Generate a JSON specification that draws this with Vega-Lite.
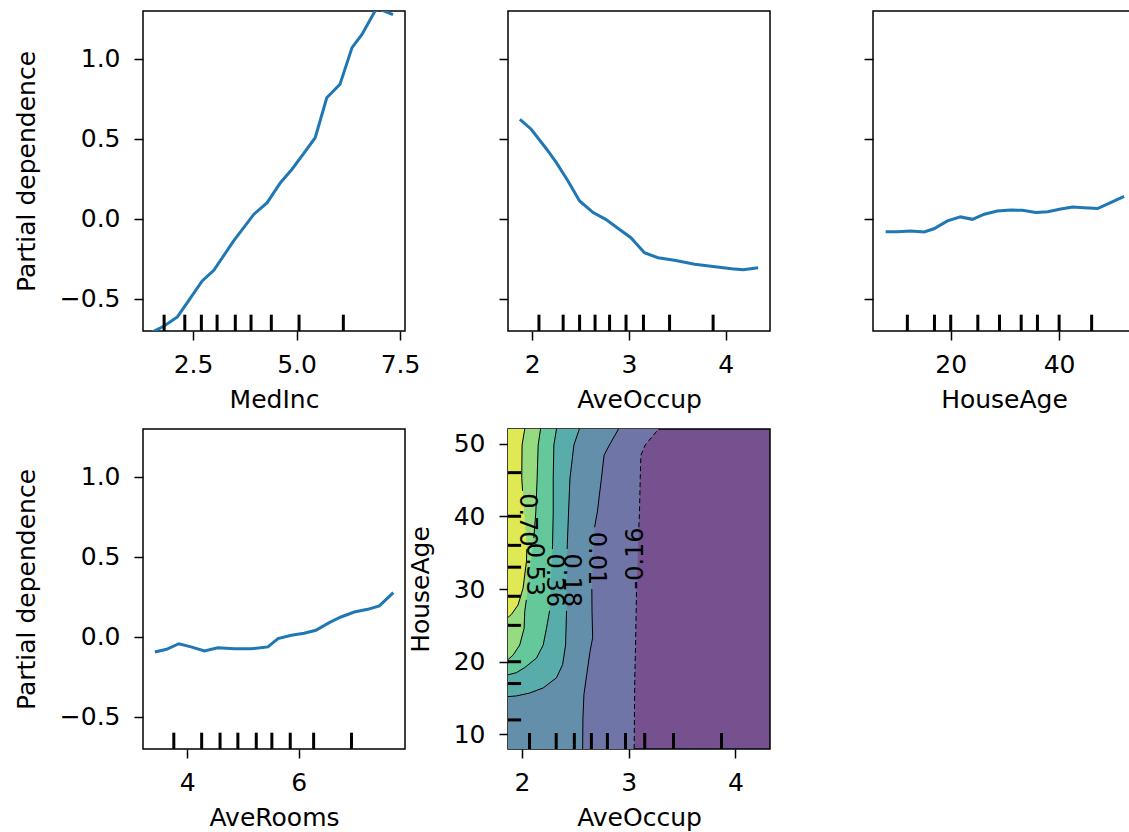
{
  "$schema": "https://vega.github.io/schema/vega-lite/v6.json",
  "padding": {"left": 13, "top": 10, "right": 0, "bottom": 0},
  "background": "white",
  "config": {
    "font": "DejaVu Sans",
    "view": {"stroke": "black", "strokeWidth": 1.5},
    "axis": {
      "domain": false, "grid": false, "ticks": true, "tickColor": "black", "tickWidth": 1.5, "tickSize": 9,
      "labelFont": "DejaVu Sans", "labelFontSize": 25, "labelColor": "black", "labelPadding": 14,
      "titleFont": "DejaVu Sans", "titleFontSize": 25, "titleFontWeight": "normal", "titleColor": "black",
      "labelFlush": false, "labelOverlap": false
    },
    "axisX": {"titlePadding": 10, "labelPadding": 12},
    "axisY": {"titlePadding": 20}
  },
  "datasets": {
    "medinc": [
      {"MedInc": 1.5, "pd": -0.71}, {"MedInc": 1.8, "pd": -0.671}, {"MedInc": 2.12, "pd": -0.614}, {"MedInc": 2.36, "pd": -0.525},
      {"MedInc": 2.72, "pd": -0.389}, {"MedInc": 3.0, "pd": -0.323}, {"MedInc": 3.48, "pd": -0.139}, {"MedInc": 3.97, "pd": 0.028},
      {"MedInc": 4.29, "pd": 0.1}, {"MedInc": 4.61, "pd": 0.225}, {"MedInc": 4.89, "pd": 0.309}, {"MedInc": 5.17, "pd": 0.406},
      {"MedInc": 5.45, "pd": 0.506}, {"MedInc": 5.73, "pd": 0.756}, {"MedInc": 6.05, "pd": 0.84}, {"MedInc": 6.34, "pd": 1.069},
      {"MedInc": 6.58, "pd": 1.152}, {"MedInc": 6.9, "pd": 1.3}, {"MedInc": 7.0, "pd": 1.31}, {"MedInc": 7.33, "pd": 1.275}
    ],
    "aveoccup": [
      {"AveOccup": 1.873, "pd": 0.621}, {"AveOccup": 1.99, "pd": 0.559}, {"AveOccup": 2.15, "pd": 0.434}, {"AveOccup": 2.25, "pd": 0.35},
      {"AveOccup": 2.37, "pd": 0.236}, {"AveOccup": 2.49, "pd": 0.111}, {"AveOccup": 2.63, "pd": 0.038}, {"AveOccup": 2.76, "pd": -0.004},
      {"AveOccup": 2.9, "pd": -0.066}, {"AveOccup": 3.02, "pd": -0.119}, {"AveOccup": 3.16, "pd": -0.213}, {"AveOccup": 3.3, "pd": -0.244},
      {"AveOccup": 3.47, "pd": -0.26}, {"AveOccup": 3.68, "pd": -0.285}, {"AveOccup": 3.89, "pd": -0.3}, {"AveOccup": 4.06, "pd": -0.313},
      {"AveOccup": 4.18, "pd": -0.319}, {"AveOccup": 4.335, "pd": -0.306}
    ],
    "houseage": [
      {"HouseAge": 8, "pd": -0.081}, {"HouseAge": 10.2, "pd": -0.081}, {"HouseAge": 12.6, "pd": -0.077}, {"HouseAge": 15.1, "pd": -0.083},
      {"HouseAge": 16.9, "pd": -0.063}, {"HouseAge": 19.4, "pd": -0.014}, {"HouseAge": 21.8, "pd": 0.011}, {"HouseAge": 24.0, "pd": -0.004},
      {"HouseAge": 26.2, "pd": 0.028}, {"HouseAge": 28.6, "pd": 0.048}, {"HouseAge": 31.1, "pd": 0.054}, {"HouseAge": 33.2, "pd": 0.052},
      {"HouseAge": 35.7, "pd": 0.038}, {"HouseAge": 37.9, "pd": 0.044}, {"HouseAge": 40.3, "pd": 0.061}, {"HouseAge": 42.5, "pd": 0.073},
      {"HouseAge": 44.6, "pd": 0.069}, {"HouseAge": 47.1, "pd": 0.063}, {"HouseAge": 49.2, "pd": 0.096}, {"HouseAge": 52, "pd": 0.14}
    ],
    "averooms": [
      {"AveRooms": 3.42, "pd": -0.096}, {"AveRooms": 3.63, "pd": -0.079}, {"AveRooms": 3.85, "pd": -0.044}, {"AveRooms": 4.07, "pd": -0.064},
      {"AveRooms": 4.31, "pd": -0.089}, {"AveRooms": 4.55, "pd": -0.069}, {"AveRooms": 4.85, "pd": -0.075}, {"AveRooms": 5.15, "pd": -0.075},
      {"AveRooms": 5.45, "pd": -0.064}, {"AveRooms": 5.63, "pd": -0.012}, {"AveRooms": 5.87, "pd": 0.009}, {"AveRooms": 6.1, "pd": 0.021},
      {"AveRooms": 6.31, "pd": 0.04}, {"AveRooms": 6.55, "pd": 0.088}, {"AveRooms": 6.76, "pd": 0.123}, {"AveRooms": 7.0, "pd": 0.154},
      {"AveRooms": 7.24, "pd": 0.171}, {"AveRooms": 7.45, "pd": 0.192}, {"AveRooms": 7.7, "pd": 0.275}
    ],
    "deciles": [
      {"feature": "MedInc", "value": 1.8}, {"feature": "MedInc", "value": 2.3}, {"feature": "MedInc", "value": 2.7},
      {"feature": "MedInc", "value": 3.08}, {"feature": "MedInc", "value": 3.52}, {"feature": "MedInc", "value": 3.9},
      {"feature": "MedInc", "value": 4.39}, {"feature": "MedInc", "value": 5.06}, {"feature": "MedInc", "value": 6.13},
      {"feature": "AveOccup", "value": 2.07}, {"feature": "AveOccup", "value": 2.32}, {"feature": "AveOccup", "value": 2.49},
      {"feature": "AveOccup", "value": 2.65}, {"feature": "AveOccup", "value": 2.8}, {"feature": "AveOccup", "value": 2.97},
      {"feature": "AveOccup", "value": 3.15}, {"feature": "AveOccup", "value": 3.42}, {"feature": "AveOccup", "value": 3.87},
      {"feature": "HouseAge", "value": 12}, {"feature": "HouseAge", "value": 17}, {"feature": "HouseAge", "value": 20},
      {"feature": "HouseAge", "value": 25}, {"feature": "HouseAge", "value": 29}, {"feature": "HouseAge", "value": 33},
      {"feature": "HouseAge", "value": 36}, {"feature": "HouseAge", "value": 40}, {"feature": "HouseAge", "value": 46},
      {"feature": "AveRooms", "value": 3.76}, {"feature": "AveRooms", "value": 4.26}, {"feature": "AveRooms", "value": 4.59},
      {"feature": "AveRooms", "value": 4.91}, {"feature": "AveRooms", "value": 5.24}, {"feature": "AveRooms", "value": 5.52},
      {"feature": "AveRooms", "value": 5.85}, {"feature": "AveRooms", "value": 6.27}, {"feature": "AveRooms", "value": 6.95}
    ],
    "contour": [
      {"lev": "L1", "seg": "a", "age": 52, "occ": 3.28}, {"lev": "L1", "seg": "a", "age": 49.8, "occ": 3.155}, {"lev": "L1", "seg": "a", "age": 48.4, "occ": 3.114},
      {"lev": "L1", "seg": "a", "age": 45.2, "occ": 3.108}, {"lev": "L1", "seg": "a", "age": 40.6, "occ": 3.101}, {"lev": "L1", "seg": "a", "age": 38.5, "occ": 3.095},
      {"lev": "L1", "seg": "b", "age": 30, "occ": 3.073}, {"lev": "L1", "seg": "b", "age": 26.9, "occ": 3.07}, {"lev": "L1", "seg": "b", "age": 22.3, "occ": 3.064},
      {"lev": "L1", "seg": "b", "age": 17.8, "occ": 3.057}, {"lev": "L1", "seg": "b", "age": 13.2, "occ": 3.054}, {"lev": "L1", "seg": "b", "age": 8, "occ": 3.051},

      {"lev": "L2", "seg": "a", "age": 52, "occ": 2.904}, {"lev": "L2", "seg": "a", "age": 49.8, "occ": 2.819}, {"lev": "L2", "seg": "a", "age": 48.4, "occ": 2.769},
      {"lev": "L2", "seg": "a", "age": 45.2, "occ": 2.744}, {"lev": "L2", "seg": "a", "age": 42.9, "occ": 2.725}, {"lev": "L2", "seg": "a", "age": 40.6, "occ": 2.706},
      {"lev": "L2", "seg": "a", "age": 38.5, "occ": 2.68},
      {"lev": "L2", "seg": "b", "age": 30, "occ": 2.654}, {"lev": "L2", "seg": "b", "age": 26.9, "occ": 2.656}, {"lev": "L2", "seg": "b", "age": 23.3, "occ": 2.662},
      {"lev": "L2", "seg": "b", "age": 21.4, "occ": 2.637}, {"lev": "L2", "seg": "b", "age": 18.2, "occ": 2.606}, {"lev": "L2", "seg": "b", "age": 15.5, "occ": 2.58},
      {"lev": "L2", "seg": "b", "age": 12.3, "occ": 2.571}, {"lev": "L2", "seg": "b", "age": 8, "occ": 2.568},

      {"lev": "L3", "seg": "a", "age": 52, "occ": 2.537}, {"lev": "L3", "seg": "a", "age": 49.8, "occ": 2.486}, {"lev": "L3", "seg": "a", "age": 45.2, "occ": 2.449},
      {"lev": "L3", "seg": "a", "age": 40.6, "occ": 2.436}, {"lev": "L3", "seg": "a", "age": 36.1, "occ": 2.424}, {"lev": "L3", "seg": "a", "age": 35.5, "occ": 2.423},
      {"lev": "L3", "seg": "b", "age": 27, "occ": 2.417}, {"lev": "L3", "seg": "b", "age": 22.3, "occ": 2.408}, {"lev": "L3", "seg": "b", "age": 19.6, "occ": 2.38},
      {"lev": "L3", "seg": "b", "age": 17.8, "occ": 2.323}, {"lev": "L3", "seg": "b", "age": 16.4, "occ": 2.198}, {"lev": "L3", "seg": "b", "age": 15.7, "occ": 2.072},
      {"lev": "L3", "seg": "b", "age": 15.3, "occ": 1.947}, {"lev": "L3", "seg": "b", "age": 15.2, "occ": 1.868},

      {"lev": "L4", "seg": "a", "age": 52, "occ": 2.323}, {"lev": "L4", "seg": "a", "age": 49.8, "occ": 2.298}, {"lev": "L4", "seg": "a", "age": 45.2, "occ": 2.292},
      {"lev": "L4", "seg": "a", "age": 40.6, "occ": 2.292}, {"lev": "L4", "seg": "a", "age": 36.1, "occ": 2.286}, {"lev": "L4", "seg": "a", "age": 35.5, "occ": 2.284},
      {"lev": "L4", "seg": "b", "age": 27, "occ": 2.258}, {"lev": "L4", "seg": "b", "age": 24.6, "occ": 2.229}, {"lev": "L4", "seg": "b", "age": 22.3, "occ": 2.198},
      {"lev": "L4", "seg": "b", "age": 20.5, "occ": 2.135}, {"lev": "L4", "seg": "b", "age": 19.2, "occ": 2.025}, {"lev": "L4", "seg": "b", "age": 18.5, "occ": 1.947},
      {"lev": "L4", "seg": "b", "age": 18.2, "occ": 1.868},

      {"lev": "L5", "seg": "a", "age": 52, "occ": 2.173}, {"lev": "L5", "seg": "a", "age": 49.8, "occ": 2.151}, {"lev": "L5", "seg": "a", "age": 45.2, "occ": 2.141},
      {"lev": "L5", "seg": "a", "age": 40.6, "occ": 2.129}, {"lev": "L5", "seg": "a", "age": 37, "occ": 2.11},
      {"lev": "L5", "seg": "b", "age": 28.5, "occ": 2.04}, {"lev": "L5", "seg": "b", "age": 26.9, "occ": 2.025}, {"lev": "L5", "seg": "b", "age": 24.6, "occ": 2.019},
      {"lev": "L5", "seg": "b", "age": 22.3, "occ": 1.978}, {"lev": "L5", "seg": "b", "age": 20.9, "occ": 1.915}, {"lev": "L5", "seg": "b", "age": 20.3, "occ": 1.868},

      {"lev": "L6", "seg": "a", "age": 52, "occ": 2.025}, {"lev": "L6", "seg": "a", "age": 49.8, "occ": 2.0}, {"lev": "L6", "seg": "a", "age": 45.2, "occ": 1.997},
      {"lev": "L6", "seg": "a", "age": 43.5, "occ": 2.005},
      {"lev": "L6", "seg": "b", "age": 35.5, "occ": 2.045}, {"lev": "L6", "seg": "b", "age": 33.8, "occ": 2.041}, {"lev": "L6", "seg": "b", "age": 30.1, "occ": 2.009},
      {"lev": "L6", "seg": "b", "age": 27.8, "occ": 1.962}, {"lev": "L6", "seg": "b", "age": 26.5, "occ": 1.9}, {"lev": "L6", "seg": "b", "age": 26.1, "occ": 1.868}
    ],
    "clabels": [
      {"label": "0.70", "occ": 2.05, "age": 39.5},
      {"label": "0.53", "occ": 2.11, "age": 32.7},
      {"label": "0.36", "occ": 2.3, "age": 31.2},
      {"label": "0.18", "occ": 2.46, "age": 31.2},
      {"label": "0.01", "occ": 2.69, "age": 34.2},
      {"label": "-0.16", "occ": 3.07, "age": 34.2}
    ]
  },
  "columns": 3,
  "spacing": {"row": 98, "column": 103},
  "bounds": "flush",
  "resolve": {"scale": {"x": "independent", "y": "independent"}, "axis": {"x": "independent", "y": "independent"}},
  "concat": [
    {
      "width": 262, "height": 320,
      "layer": [
        {"data": {"name": "medinc"},
         "mark": {"type": "line", "color": "#1f77b4", "strokeWidth": 3, "clip": true},
         "encoding": {
           "x": {"field": "MedInc", "type": "quantitative", "title": "MedInc", "scale": {"domain": [1.29, 7.62], "nice": false, "zero": false}, "axis": {"values": [2.5, 5, 7.5], "format": ".1f"}},
           "y": {"field": "pd", "type": "quantitative", "title": "Partial dependence", "scale": {"domain": [-0.702, 1.298], "nice": false, "zero": false}, "axis": {"values": [-0.5, 0, 0.5, 1], "format": ".1f"}}
         }},
        {"data": {"name": "deciles"}, "transform": [{"filter": "datum.feature == 'MedInc'"}],
         "mark": {"type": "rule", "color": "black", "strokeWidth": 3},
         "encoding": {"x": {"field": "value", "type": "quantitative", "title": "MedInc"}, "y": {"datum": -0.702}, "y2": {"datum": -0.6}}}
      ]
    },
    {
      "width": 262, "height": 320,
      "layer": [
        {"data": {"name": "aveoccup"},
         "mark": {"type": "line", "color": "#1f77b4", "strokeWidth": 3, "clip": true},
         "encoding": {
           "x": {"field": "AveOccup", "type": "quantitative", "title": "AveOccup", "scale": {"domain": [1.75, 4.458], "nice": false, "zero": false}, "axis": {"values": [2, 3, 4], "format": "d"}},
           "y": {"field": "pd", "type": "quantitative", "title": null, "scale": {"domain": [-0.702, 1.298], "nice": false, "zero": false}, "axis": {"values": [-0.5, 0, 0.5, 1], "labels": false}}
         }},
        {"data": {"name": "deciles"}, "transform": [{"filter": "datum.feature == 'AveOccup'"}],
         "mark": {"type": "rule", "color": "black", "strokeWidth": 3},
         "encoding": {"x": {"field": "value", "type": "quantitative", "title": "AveOccup"}, "y": {"datum": -0.702}, "y2": {"datum": -0.6}}}
      ]
    },
    {
      "width": 262, "height": 320,
      "layer": [
        {"data": {"name": "houseage"},
         "mark": {"type": "line", "color": "#1f77b4", "strokeWidth": 3, "clip": true},
         "encoding": {
           "x": {"field": "HouseAge", "type": "quantitative", "title": "HouseAge", "scale": {"domain": [5.66, 54.0], "nice": false, "zero": false}, "axis": {"values": [20, 40], "format": "d"}},
           "y": {"field": "pd", "type": "quantitative", "title": null, "scale": {"domain": [-0.702, 1.298], "nice": false, "zero": false}, "axis": {"values": [-0.5, 0, 0.5, 1], "labels": false}}
         }},
        {"data": {"name": "deciles"}, "transform": [{"filter": "datum.feature == 'HouseAge'"}],
         "mark": {"type": "rule", "color": "black", "strokeWidth": 3},
         "encoding": {"x": {"field": "value", "type": "quantitative", "title": "HouseAge"}, "y": {"datum": -0.702}, "y2": {"datum": -0.6}}}
      ]
    },
    {
      "width": 262, "height": 320,
      "layer": [
        {"data": {"name": "averooms"},
         "mark": {"type": "line", "color": "#1f77b4", "strokeWidth": 3, "clip": true},
         "encoding": {
           "x": {"field": "AveRooms", "type": "quantitative", "title": "AveRooms", "scale": {"domain": [3.207, 7.91], "nice": false, "zero": false}, "axis": {"values": [4, 6], "format": "d"}},
           "y": {"field": "pd", "type": "quantitative", "title": "Partial dependence", "scale": {"domain": [-0.702, 1.298], "nice": false, "zero": false}, "axis": {"values": [-0.5, 0, 0.5, 1], "format": ".1f"}}
         }},
        {"data": {"name": "deciles"}, "transform": [{"filter": "datum.feature == 'AveRooms'"}],
         "mark": {"type": "rule", "color": "black", "strokeWidth": 3},
         "encoding": {"x": {"field": "value", "type": "quantitative", "title": "AveRooms"}, "y": {"datum": -0.702}, "y2": {"datum": -0.6}}}
      ]
    },
    {
      "width": 262, "height": 320,
      "view": {"fill": "#75518f", "stroke": "black", "strokeWidth": 1.5},
      "layer": [
        {"data": {"name": "contour"}, "transform": [{"filter": "datum.lev == 'L1'"}],
         "mark": {"type": "area", "orient": "horizontal", "color": "#6f76a7", "opacity": 1, "clip": true},
         "encoding": {
           "y": {"field": "age", "type": "quantitative", "title": "HouseAge", "scale": {"domain": [8, 52], "nice": false, "zero": false}, "axis": {"values": [10, 20, 30, 40, 50], "format": "d"}},
           "x": {"field": "occ", "type": "quantitative", "title": "AveOccup", "stack": null, "scale": {"domain": [1.868, 4.325], "nice": false, "zero": false}, "axis": {"values": [2, 3, 4], "format": "d"}},
           "x2": {"datum": 1.868}
         }},
        {"data": {"name": "contour"}, "transform": [{"filter": "datum.lev == 'L2'"}],
         "mark": {"type": "area", "orient": "horizontal", "color": "#648faa", "opacity": 1, "clip": true},
         "encoding": {"y": {"field": "age", "type": "quantitative", "title": "HouseAge"}, "x": {"field": "occ", "type": "quantitative", "title": "AveOccup", "stack": null}, "x2": {"datum": 1.868}}},
        {"data": {"name": "contour"}, "transform": [{"filter": "datum.lev == 'L3'"}],
         "mark": {"type": "area", "orient": "horizontal", "color": "#58aca9", "opacity": 1, "clip": true},
         "encoding": {"y": {"field": "age", "type": "quantitative", "title": "HouseAge"}, "x": {"field": "occ", "type": "quantitative", "title": "AveOccup", "stack": null}, "x2": {"datum": 1.868}}},
        {"data": {"name": "contour"}, "transform": [{"filter": "datum.lev == 'L4'"}],
         "mark": {"type": "area", "orient": "horizontal", "color": "#65c89b", "opacity": 1, "clip": true},
         "encoding": {"y": {"field": "age", "type": "quantitative", "title": "HouseAge"}, "x": {"field": "occ", "type": "quantitative", "title": "AveOccup", "stack": null}, "x2": {"datum": 1.868}}},
        {"data": {"name": "contour"}, "transform": [{"filter": "datum.lev == 'L5'"}],
         "mark": {"type": "area", "orient": "horizontal", "color": "#96db80", "opacity": 1, "clip": true},
         "encoding": {"y": {"field": "age", "type": "quantitative", "title": "HouseAge"}, "x": {"field": "occ", "type": "quantitative", "title": "AveOccup", "stack": null}, "x2": {"datum": 1.868}}},
        {"data": {"name": "contour"}, "transform": [{"filter": "datum.lev == 'L6'"}],
         "mark": {"type": "area", "orient": "horizontal", "color": "#dfe953", "opacity": 1, "clip": true},
         "encoding": {"y": {"field": "age", "type": "quantitative", "title": "HouseAge"}, "x": {"field": "occ", "type": "quantitative", "title": "AveOccup", "stack": null}, "x2": {"datum": 1.868}}},
        {"data": {"name": "contour"}, "transform": [{"filter": "datum.lev != 'L1'"}],
         "mark": {"type": "line", "color": "black", "strokeWidth": 1, "clip": true},
         "encoding": {"y": {"field": "age", "type": "quantitative", "title": "HouseAge"}, "x": {"field": "occ", "type": "quantitative", "title": "AveOccup"},
                      "detail": [{"field": "lev"}, {"field": "seg"}], "order": {"field": "age", "type": "quantitative"}}},
        {"data": {"name": "contour"}, "transform": [{"filter": "datum.lev == 'L1'"}],
         "mark": {"type": "line", "color": "black", "strokeWidth": 1, "strokeDash": [5, 3], "clip": true},
         "encoding": {"y": {"field": "age", "type": "quantitative", "title": "HouseAge"}, "x": {"field": "occ", "type": "quantitative", "title": "AveOccup"},
                      "detail": {"field": "seg"}, "order": {"field": "age", "type": "quantitative"}}},
        {"data": {"name": "clabels"}, "transform": [{"filter": "datum.label != '-0.16'"}],
         "mark": {"type": "text", "angle": 90, "fontSize": 24, "color": "black", "font": "DejaVu Sans"},
         "encoding": {"y": {"field": "age", "type": "quantitative", "title": "HouseAge"}, "x": {"field": "occ", "type": "quantitative", "title": "AveOccup"}, "text": {"field": "label"}}},
        {"data": {"name": "clabels"}, "transform": [{"filter": "datum.label == '-0.16'"}],
         "mark": {"type": "text", "angle": 270, "fontSize": 24, "color": "black", "font": "DejaVu Sans"},
         "encoding": {"y": {"field": "age", "type": "quantitative", "title": "HouseAge"}, "x": {"field": "occ", "type": "quantitative", "title": "AveOccup"}, "text": {"field": "label"}}},
        {"data": {"name": "deciles"}, "transform": [{"filter": "datum.feature == 'AveOccup'"}],
         "mark": {"type": "rule", "color": "black", "strokeWidth": 3},
         "encoding": {"x": {"field": "value", "type": "quantitative", "title": "AveOccup"}, "y": {"datum": 8}, "y2": {"datum": 10.2}}},
        {"data": {"name": "deciles"}, "transform": [{"filter": "datum.feature == 'HouseAge'"}],
         "mark": {"type": "rule", "color": "black", "strokeWidth": 3},
         "encoding": {"y": {"field": "value", "type": "quantitative", "title": "HouseAge"}, "x": {"datum": 1.868}, "x2": {"datum": 1.991}}}
      ]
    }
  ]
}
